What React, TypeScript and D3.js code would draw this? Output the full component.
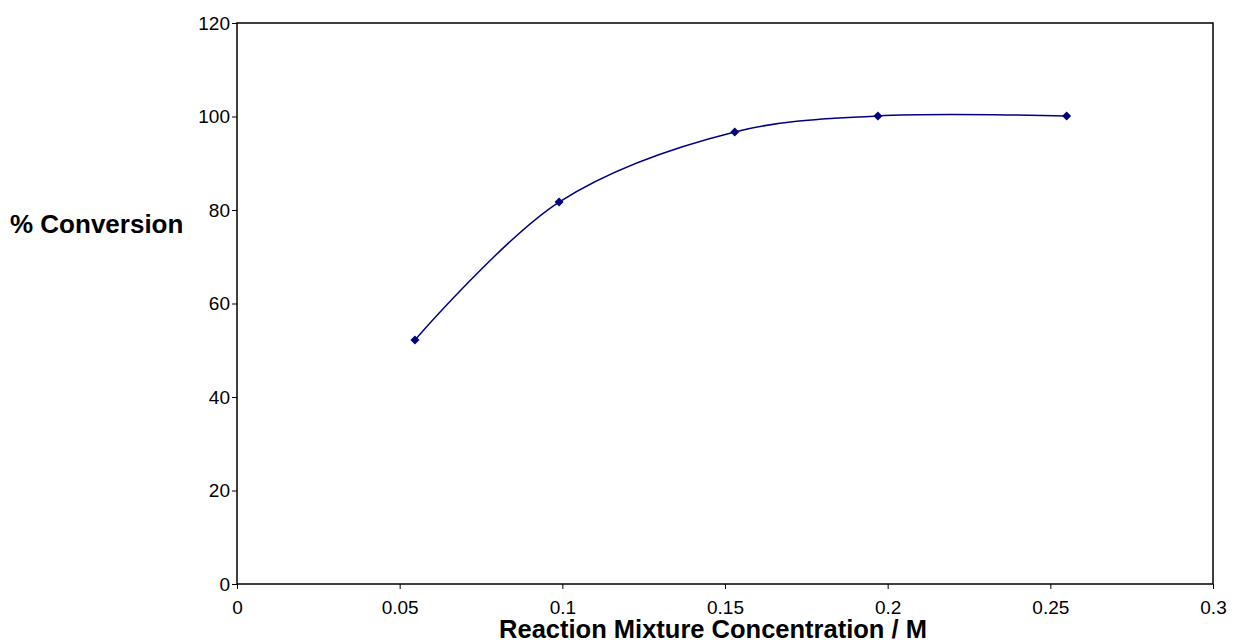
import React, { useEffect, useRef } from 'react';
import * as d3 from 'd3';

// concentration (M) vs % conversion
const concentration = [0.0547, 0.099, 0.153, 0.197, 0.255];
const conversion = [52.2, 81.7, 96.7, 100.1, 100.1];
const xTicks = [0, 0.05, 0.1, 0.15, 0.2, 0.25, 0.3];
const yTicks = [0, 20, 40, 60, 80, 100, 120];

function App() {
  const svgRef = useRef<SVGSVGElement>(null);

  useEffect(() => {
    const svg = d3.select(svgRef.current);
    svg.selectAll('*').remove();

    const left = 237, right = 1213, top = 23, bottom = 584;
    const font = 'Liberation Sans, Arial, sans-serif';

    const x = d3.scaleLinear().domain([0, 0.3]).range([left, right]);
    const y = d3.scaleLinear().domain([0, 120]).range([bottom, top]);

    svg.append('rect')
      .attr('x', left).attr('y', top)
      .attr('width', right - left).attr('height', bottom - top)
      .attr('fill', 'none').attr('stroke', '#000').attr('stroke-width', 1.5);

    const xAxis = svg.append('g')
      .attr('transform', `translate(0,${bottom})`)
      .call(d3.axisBottom(x).tickValues(xTicks).tickSize(5).tickPadding(12).tickFormat(d => String(d)));
    const yAxis = svg.append('g')
      .attr('transform', `translate(${left},0)`)
      .call(d3.axisLeft(y).tickValues(yTicks).tickSize(5).tickPadding(2).tickFormat(d => String(d)));

    [xAxis, yAxis].forEach(a => {
      a.select('.domain').remove();
      a.selectAll('line').attr('stroke', '#000').attr('stroke-width', 1);
      a.selectAll('text').attr('font-family', font).attr('font-size', 19).attr('fill', '#000');
    });

    const pts = concentration.map((c, i) => [x(c), y(conversion[i])] as [number, number]);

    svg.append('path')
      .attr('d', d3.line().curve(d3.curveCatmullRom.alpha(0.5))(pts))
      .attr('fill', 'none')
      .attr('stroke', '#000080')
      .attr('stroke-width', 1.5);

    svg.selectAll('path.marker')
      .data(pts)
      .enter()
      .append('path')
      .attr('class', 'marker')
      .attr('d', 'M0,-4.5L4.5,0L0,4.5L-4.5,0Z')
      .attr('transform', d => `translate(${d[0]},${d[1]})`)
      .attr('fill', '#000080');

    svg.append('text')
      .attr('x', 10).attr('y', 233)
      .attr('font-family', font).attr('font-size', 26).attr('font-weight', 'bold')
      .text('% Conversion');

    svg.append('text')
      .attr('x', 713).attr('y', 638)
      .attr('text-anchor', 'middle')
      .attr('font-family', font).attr('font-size', 25.5).attr('font-weight', 'bold')
      .text('Reaction Mixture Concentration / M');
  }, []);

  return (
    <svg ref={svgRef} width={1235} height={642}
      style={{ position: 'absolute', left: 0, top: 0, background: '#fff' }} />
  );
}

export default App;
